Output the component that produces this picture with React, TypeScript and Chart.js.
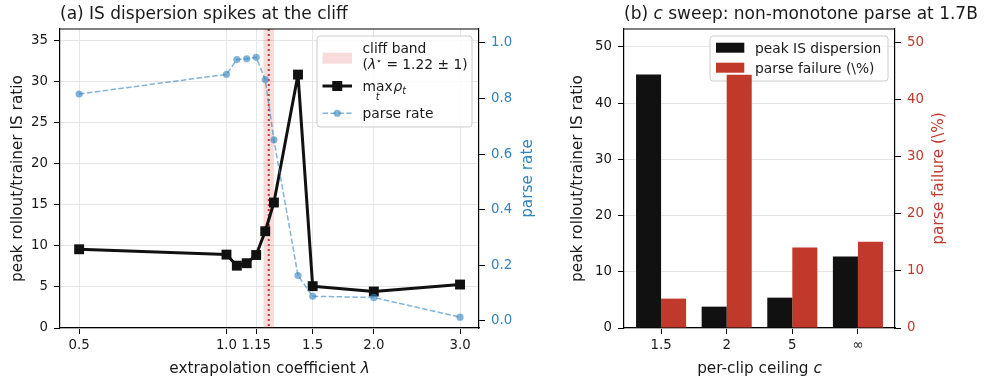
import React, { useEffect, useRef } from 'react';
import { Chart, registerables } from 'chart.js';

Chart.register(...registerables);

// ---------- data: panel (a) ----------
const LAMBDA = [0.5, 1.0, 1.05, 1.1, 1.15, 1.2, 1.25, 1.4, 1.5, 2.0, 3.0];
const IS_RATIO = [9.6, 8.95, 7.6, 7.9, 8.9, 11.8, 15.3, 30.9, 5.1, 4.45, 5.3];
const PARSE_RATE = [0.816, 0.887, 0.94, 0.943, 0.948, 0.868, 0.651, 0.163, 0.088, 0.084, 0.013];
const LAMBDA_TICKS = [0.5, 1.0, 1.15, 1.5, 2.0, 3.0];
const LAMBDA_TICK_LABELS = ['0.5', '1.0', '1.15', '1.5', '2.0', '3.0'];
const IS_TICKS = [0, 5, 10, 15, 20, 25, 30, 35];
const PARSE_TICKS = [0, 0.2, 0.4, 0.6, 0.8, 1.0];
const CLIFF_CENTER = 1.22;
const CLIFF_LOW = 1.19;
const CLIFF_HIGH = 1.25;

// ---------- data: panel (b) ----------
const CLIP_LABELS = ['1.5', '2', '5', '∞'];
const PEAK_IS = [45.1, 3.8, 5.4, 12.7];
const PARSE_FAIL = [5.15, 44.4, 14.1, 15.1];
const BAR_LEFT_TICKS = [0, 10, 20, 30, 40, 50];
const BAR_RIGHT_TICKS = [0, 10, 20, 30, 40, 50];

// ---------- styles ----------
const FAMILY = '"DejaVu Sans", "Liberation Sans", sans-serif';
const TEXT = '#1a1a1a';
const GRID = '#e6e6e6';
const BLUE_TEXT = '#3182bd';
const BLUE_LINE = 'rgba(49,130,189,0.6)';
const RED = '#c0392b';
const BAND = 'rgba(214,39,40,0.17)';
const BLACK = '#111111';
const TICK_SIZE = 13.3;
const LABEL_SIZE = 15.3;
const TITLE_SIZE = 17;
const LEG_SIZE = 13.8;

const f = (size: number, italic = false) => `${italic ? 'italic ' : ''}${size}px ${FAMILY}`;

type Seg = { t: string; font: string; dy?: number };

function drawRich(ctx: CanvasRenderingContext2D, segs: Seg[], x: number, y: number, align: 'left' | 'center', color: string) {
  ctx.save();
  ctx.fillStyle = color;
  ctx.textBaseline = 'alphabetic';
  ctx.textAlign = 'left';
  let total = 0;
  for (const s of segs) { ctx.font = s.font; total += ctx.measureText(s.t).width; }
  let cx = align === 'center' ? x - total / 2 : x;
  for (const s of segs) {
    ctx.font = s.font;
    ctx.fillText(s.t, cx, y + (s.dy || 0));
    cx += ctx.measureText(s.t).width;
  }
  ctx.restore();
}

function drawRotated(ctx: CanvasRenderingContext2D, text: string, x: number, y: number, font: string, color: string) {
  ctx.save();
  ctx.translate(x, y);
  ctx.rotate(-Math.PI / 2);
  ctx.font = font;
  ctx.fillStyle = color;
  ctx.textAlign = 'center';
  ctx.textBaseline = 'middle';
  ctx.fillText(text, 0, 0);
  ctx.restore();
}

function legendFrame(ctx: CanvasRenderingContext2D, x: number, y: number, w: number, h: number) {
  ctx.save();
  ctx.beginPath();
  if ((ctx as any).roundRect) (ctx as any).roundRect(x, y, w, h, 3); else ctx.rect(x, y, w, h);
  ctx.fillStyle = 'rgba(255,255,255,0.8)';
  ctx.fill();
  ctx.strokeStyle = '#cccccc';
  ctx.lineWidth = 1;
  ctx.stroke();
  ctx.restore();
}

function topSpine(ctx: CanvasRenderingContext2D, a: any) {
  ctx.save();
  ctx.strokeStyle = '#000';
  ctx.lineWidth = 1.2;
  ctx.beginPath();
  ctx.moveTo(a.left, a.top);
  ctx.lineTo(a.right, a.top);
  ctx.stroke();
  ctx.restore();
}

const setTicks = (vals: number[]) => (scale: any) => {
  scale.ticks = vals.map((v) => ({ value: v }));
};

const tickFont = { family: FAMILY, size: TICK_SIZE };

// ---------- panel (a) decorations ----------
const leftDecor = {
  id: 'leftDecor',
  beforeDatasetsDraw(chart: any) {
    const { ctx, chartArea: a, scales } = chart;
    const x = scales.x;
    ctx.save();
    ctx.beginPath();
    ctx.rect(a.left, a.top, a.right - a.left, a.bottom - a.top);
    ctx.clip();
    const x0 = x.getPixelForValue(CLIFF_LOW);
    const x1 = x.getPixelForValue(CLIFF_HIGH);
    ctx.fillStyle = BAND;
    ctx.fillRect(x0, a.top, x1 - x0, a.bottom - a.top);
    const xc = x.getPixelForValue(CLIFF_CENTER);
    ctx.strokeStyle = RED;
    ctx.lineWidth = 2;
    ctx.setLineDash([2, 3]);
    ctx.beginPath();
    ctx.moveTo(xc, a.top);
    ctx.lineTo(xc, a.bottom);
    ctx.stroke();
    ctx.restore();
  },
  afterDraw(chart: any) {
    const { ctx, chartArea: a } = chart;
    topSpine(ctx, a);
    drawRich(ctx, [{ t: '(a) IS dispersion spikes at the cliff', font: f(TITLE_SIZE) }], a.left, 19, 'left', TEXT);
    drawRich(ctx, [
      { t: 'extrapolation coefficient ', font: f(LABEL_SIZE) },
      { t: 'λ', font: f(LABEL_SIZE, true) },
    ], (a.left + a.right) / 2, 373, 'center', TEXT);
    drawRotated(ctx, 'parse rate', a.right + 49, (a.top + a.bottom) / 2, f(LABEL_SIZE), BLUE_TEXT);

    // legend
    const w = 155, h = 91;
    const bx = a.right - 7 - w, by = a.top + 7;
    legendFrame(ctx, bx, by, w, h);
    const hx0 = bx + 5.5, hx1 = bx + 35, hxc = (hx0 + hx1) / 2, tx = bx + 45.5;
    ctx.save();
    ctx.fillStyle = BAND;
    ctx.fillRect(hx0, by + 16.7, hx1 - hx0, 11);
    ctx.restore();
    drawRich(ctx, [{ t: 'cliff band', font: f(LEG_SIZE) }], tx, by + 17.2, 'left', TEXT);
    drawRich(ctx, [
      { t: '(', font: f(LEG_SIZE) },
      { t: 'λ', font: f(LEG_SIZE, true) },
      { t: '⋆', font: f(9.5), dy: -5 },
      { t: ' = 1.22 ± 1)', font: f(LEG_SIZE) },
    ], tx, by + 32.5, 'left', TEXT);
    ctx.save();
    ctx.strokeStyle = BLACK;
    ctx.lineWidth = 3;
    ctx.beginPath();
    ctx.moveTo(hx0, by + 50);
    ctx.lineTo(hx1, by + 50);
    ctx.stroke();
    ctx.fillStyle = BLACK;
    ctx.fillRect(hxc - 5, by + 45, 10, 10);
    ctx.restore();
    ctx.save();
    ctx.fillStyle = TEXT;
    ctx.textBaseline = 'alphabetic';
    ctx.font = f(LEG_SIZE);
    const bl = by + 54.5;
    ctx.fillText('max', tx, bl);
    const wMax = ctx.measureText('max').width;
    ctx.font = f(9.7, true);
    const wt = ctx.measureText('t').width;
    ctx.fillText('t', tx + wMax / 2 - wt / 2, bl + 9);
    ctx.font = f(LEG_SIZE, true);
    ctx.fillText('ρ', tx + wMax + 1, bl);
    const wr = ctx.measureText('ρ').width;
    ctx.font = f(9.7, true);
    ctx.fillText('t', tx + wMax + 1 + wr, bl + 3);
    ctx.restore();
    ctx.save();
    ctx.strokeStyle = BLUE_LINE;
    ctx.lineWidth = 1.5;
    ctx.setLineDash([5.5, 2.4]);
    ctx.beginPath();
    ctx.moveTo(hx0, by + 77.3);
    ctx.lineTo(hx1, by + 77.3);
    ctx.stroke();
    ctx.setLineDash([]);
    ctx.fillStyle = BLUE_LINE;
    ctx.beginPath();
    ctx.arc(hxc, by + 77.3, 3.6, 0, Math.PI * 2);
    ctx.fill();
    ctx.restore();
    drawRich(ctx, [{ t: 'parse rate', font: f(LEG_SIZE) }], tx, by + 81.5, 'left', TEXT);
  },
};

// ---------- panel (b) decorations ----------
const rightDecor = {
  id: 'rightDecor',
  beforeDatasetsDraw(chart: any) {
    // legend sits beneath the bars (bars of the twin axis are drawn over it)
    const { ctx, chartArea: a } = chart;
    const w = 178, h = 45;
    const bx = a.right - 7 - w, by = a.top + 7;
    legendFrame(ctx, bx, by, w, h);
    const hx0 = bx + 6, tx = bx + 45;
    ctx.save();
    ctx.fillStyle = BLACK;
    ctx.fillRect(hx0, by + 6.7, 28.3, 10);
    ctx.fillStyle = RED;
    ctx.fillRect(hx0, by + 26.7, 28.3, 10);
    ctx.restore();
    drawRich(ctx, [{ t: 'peak IS dispersion', font: f(LEG_SIZE) }], tx, by + 16.7, 'left', TEXT);
    drawRich(ctx, [{ t: 'parse failure (\\%)', font: f(LEG_SIZE) }], tx, by + 36.5, 'left', TEXT);
  },
  afterDraw(chart: any) {
    const { ctx, chartArea: a } = chart;
    topSpine(ctx, a);
    drawRich(ctx, [
      { t: '(b) ', font: f(TITLE_SIZE) },
      { t: 'c', font: f(TITLE_SIZE, true) },
      { t: ' sweep: non-monotone parse at 1.7B', font: f(TITLE_SIZE) },
    ], a.left, 19, 'left', TEXT);
    drawRich(ctx, [
      { t: 'per-clip ceiling ', font: f(LABEL_SIZE) },
      { t: 'c', font: f(LABEL_SIZE, true) },
    ], (a.left + a.right) / 2, 373, 'center', TEXT);
    drawRotated(ctx, 'parse failure (\\%)', a.right + 44.5, (a.top + a.bottom) / 2, f(LABEL_SIZE), RED);
  },
};

function leftConfig(): any {
  return {
    type: 'line',
    data: {
      datasets: [
        {
          label: 'parse rate',
          data: LAMBDA.map((x, i) => ({ x, y: PARSE_RATE[i] })),
          yAxisID: 'y1',
          borderColor: BLUE_LINE,
          backgroundColor: BLUE_LINE,
          borderWidth: 1.5,
          borderDash: [5.5, 2.4],
          pointRadius: 3.6,
          pointBorderWidth: 0,
          pointBackgroundColor: BLUE_LINE,
          tension: 0,
          fill: false,
        },
        {
          label: 'max_t ρ_t',
          data: LAMBDA.map((x, i) => ({ x, y: IS_RATIO[i] })),
          yAxisID: 'y',
          borderColor: BLACK,
          backgroundColor: BLACK,
          borderWidth: 3,
          borderJoinStyle: 'round',
          borderCapStyle: 'round',
          pointStyle: 'rect',
          pointRadius: 7,
          pointBorderWidth: 0,
          pointBackgroundColor: BLACK,
          tension: 0,
          fill: false,
        },
      ],
    },
    options: {
      animation: false,
      responsive: false,
      maintainAspectRatio: false,
      devicePixelRatio: 1,
      layout: { padding: { top: 29, left: 0, right: 0, bottom: 0 } },
      plugins: { legend: { display: false }, tooltip: { enabled: false }, title: { display: false } },
      scales: {
        x: {
          type: 'logarithmic',
          min: 0.457,
          max: 3.28,
          offset: false,
          afterBuildTicks: setTicks(LAMBDA_TICKS),
          afterFit: (s: any) => { s.height = 51; },
          ticks: {
            autoSkip: false,
            maxRotation: 0,
            minRotation: 0,
            padding: 4,
            font: tickFont,
            color: TEXT,
            callback: (_v: any, i: number) => LAMBDA_TICK_LABELS[i],
          },
          grid: { color: GRID, lineWidth: 1, tickColor: '#000', tickLength: 6, drawTicks: true, offset: false },
          border: { display: true, color: '#000', width: 1.2 },
        },
        y: {
          position: 'left',
          min: 0,
          max: 36.46,
          afterBuildTicks: setTicks(IS_TICKS),
          afterFit: (s: any) => { s.width = 60; },
          ticks: { padding: 6, font: tickFont, color: TEXT, callback: (v: any) => String(v) },
          grid: { color: GRID, lineWidth: 1, tickColor: '#000', tickLength: 6 },
          border: { display: true, color: '#000', width: 1.2 },
          title: {
            display: true,
            text: 'peak rollout/trainer IS ratio',
            font: { family: FAMILY, size: LABEL_SIZE },
            color: TEXT,
            padding: { top: 9, bottom: 0 },
          },
        },
        y1: {
          position: 'right',
          min: -0.026,
          max: 1.05,
          afterBuildTicks: setTicks(PARSE_TICKS),
          afterFit: (s: any) => { s.width = 81; },
          ticks: { padding: 6, font: tickFont, color: BLUE_TEXT, callback: (v: any) => Number(v).toFixed(1) },
          grid: { drawOnChartArea: false, tickColor: '#000', tickLength: 6 },
          border: { display: true, color: '#000', width: 1.2 },
        },
      },
    },
    plugins: [leftDecor],
  };
}

function rightConfig(): any {
  return {
    type: 'bar',
    data: {
      datasets: [
        {
          label: 'peak IS dispersion',
          data: PEAK_IS.map((y, i) => ({ x: i, y })),
          yAxisID: 'y',
          backgroundColor: BLACK,
          borderWidth: 0,
          categoryPercentage: 0.763,
          barPercentage: 1,
        },
        {
          label: 'parse failure (\\%)',
          data: PARSE_FAIL.map((y, i) => ({ x: i, y })),
          yAxisID: 'y1',
          backgroundColor: RED,
          borderWidth: 0,
          categoryPercentage: 0.763,
          barPercentage: 1,
        },
      ],
    },
    options: {
      animation: false,
      responsive: false,
      maintainAspectRatio: false,
      devicePixelRatio: 1,
      layout: { padding: { top: 29, left: 0, right: 0, bottom: 0 } },
      plugins: { legend: { display: false }, tooltip: { enabled: false }, title: { display: false } },
      scales: {
        x: {
          type: 'linear',
          min: -0.565,
          max: 3.565,
          offset: false,
          afterBuildTicks: setTicks(CLIP_LABELS.map((_, i) => i)),
          afterFit: (s: any) => { s.height = 51; },
          ticks: {
            autoSkip: false,
            maxRotation: 0,
            minRotation: 0,
            padding: 4,
            font: tickFont,
            color: TEXT,
            callback: (_v: any, i: number) => CLIP_LABELS[i],
          },
          grid: { drawOnChartArea: false, tickColor: '#000', tickLength: 6, offset: false },
          border: { display: true, color: '#000', width: 1.2 },
        },
        y: {
          position: 'left',
          min: 0,
          max: 53.2,
          afterBuildTicks: setTicks(BAR_LEFT_TICKS),
          afterFit: (s: any) => { s.width = 64; },
          ticks: { padding: 6, font: tickFont, color: TEXT, callback: (v: any) => String(v) },
          grid: { color: GRID, lineWidth: 1, tickColor: '#000', tickLength: 6 },
          border: { display: true, color: '#000', width: 1.2 },
          title: {
            display: true,
            text: 'peak rollout/trainer IS ratio',
            font: { family: FAMILY, size: LABEL_SIZE },
            color: TEXT,
            padding: { top: 9, bottom: 0 },
          },
        },
        y1: {
          position: 'right',
          min: 0,
          max: 52.4,
          afterBuildTicks: setTicks(BAR_RIGHT_TICKS),
          afterFit: (s: any) => { s.width = 90; },
          ticks: { padding: 6, font: tickFont, color: RED, callback: (v: any) => String(v) },
          grid: { drawOnChartArea: false, tickColor: '#000', tickLength: 6 },
          border: { display: true, color: '#000', width: 1.2 },
        },
      },
    },
    plugins: [rightDecor],
  };
}

export default function App() {
  const leftRef = useRef<HTMLCanvasElement>(null);
  const rightRef = useRef<HTMLCanvasElement>(null);

  useEffect(() => {
    if (!leftRef.current || !rightRef.current) return;
    const c1 = new Chart(leftRef.current, leftConfig());
    const c2 = new Chart(rightRef.current, rightConfig());
    return () => {
      c1.destroy();
      c2.destroy();
    };
  }, []);

  return (
    <div style={{ position: 'absolute', left: 0, top: 0, width: 985, height: 379, background: '#fff' }}>
      <canvas ref={leftRef} width={560} height={379} style={{ position: 'absolute', left: 0, top: 0, width: 560, height: 379 }} />
      <canvas ref={rightRef} width={425} height={379} style={{ position: 'absolute', left: 560, top: 0, width: 425, height: 379 }} />
    </div>
  );
}
